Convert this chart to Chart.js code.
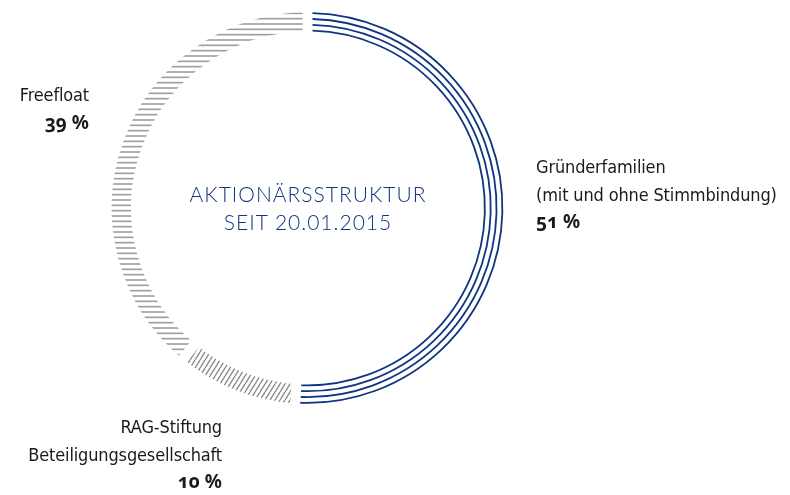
<!DOCTYPE html>
<html>
<head>
<meta charset="utf-8">
<script src="https://cdn.jsdelivr.net/npm/chart.js@4.4.0/dist/chart.umd.min.js"></script>
<style>
  html, body { margin: 0; padding: 0; background: #fff; }
  #wrap { position: relative; width: 790px; height: 495px; }
  #wrap canvas { position: absolute; left: 0; top: 0; }
  .lbl {
    position: absolute;
    font-family: "Liberation Sans Narrow", "DejaVu Sans Condensed", Roboto, sans-serif;
    font-size: 18px;
    line-height: 27.5px;
    letter-spacing: -0.15px;
    color: #1a1a1a;
    white-space: nowrap;
  }
  .lbl .pct {
    font-family: "Noto Sans", sans-serif;
    font-weight: 700;
    font-size: 19px;
    letter-spacing: 0;
    font-feature-settings: "onum";
  }
  .center {
    position: absolute;
    left: 108px; width: 400px; top: 180px;
    text-align: center;
    font-family: Lato, "Open Sans", sans-serif;
    font-weight: 300;
    font-size: 21px;
    line-height: 28px;
    letter-spacing: 1px;
    color: #123680;
  }
</style>
</head>
<body>
<div id="wrap">
  <canvas id="shareChart" width="790" height="495"></canvas>
  <div class="center" id="centerText"></div>
</div>
<script>
// Aktionärsstruktur – Anteile in Prozent
const categories = ['Gründerfamilien', 'RAG-Stiftung', 'Freefloat'];
const shares = [51, 10, 39];
const labelLines = [
  ['Gründerfamilien', '(mit und ohne Stimmbindung)'],
  ['RAG-Stiftung', 'Beteiligungsgesellschaft'],
  ['Freefloat']
];
const centerLines = ['AKTIONÄRSSTRUKTUR', 'SEIT 20.01.2015'];

const navy = '#0f3581';
const gap = 10;

// Schraffuren für die grauen Segmente
function hatch(kind) {
  const c = document.createElement('canvas');
  const g = c.getContext('2d');
  if (kind === 'horizontal') {
    c.width = 8; c.height = 16;
    g.strokeStyle = '#9c9c9c';
    g.lineWidth = 1.6;
    for (let i = 0; i < 3; i++) {
      const yy = 2.67 + i * 16 / 3;
      g.beginPath(); g.moveTo(0, yy); g.lineTo(8, yy); g.stroke();
    }
  } else {
    c.width = 5; c.height = 8;
    g.strokeStyle = '#8a8a8a';
    g.lineWidth = 1.4;
    for (const dx of [-5, 0, 5]) {
      g.beginPath(); g.moveTo(dx, 8); g.lineTo(dx + 5, 0); g.stroke();
    }
  }
  return g.createPattern(c, 'repeat');
}

// vier konzentrische Linien im Segment der Gründerfamilien
const ringLines = {
  id: 'ringLines',
  afterDatasetsDraw(chart) {
    const arc = chart.getDatasetMeta(0).data[0];
    const p = arc.getProps(['x', 'y', 'startAngle', 'endAngle', 'innerRadius', 'outerRadius'], true);
    const ctx = chart.ctx;
    const inner = p.innerRadius + gap / 2 + 0.9;
    const outer = p.outerRadius - gap / 2 - 0.9;
    const step = (outer - inner) / 3;
    ctx.save();
    ctx.strokeStyle = navy;
    ctx.lineWidth = 1.8;
    for (let i = 0; i < 4; i++) {
      const r = inner + i * step;
      const d = (gap / 2) / r;
      ctx.beginPath();
      ctx.arc(p.x, p.y, r, p.startAngle + d, p.endAngle - d);
      ctx.stroke();
    }
    ctx.restore();
  }
};

const ctx = document.getElementById('shareChart').getContext('2d');
const shareChart = new Chart(ctx, {
  type: 'doughnut',
  data: {
    labels: categories,
    datasets: [{
      data: shares,
      backgroundColor: ['rgba(0,0,0,0)', hatch('diagonal'), hatch('horizontal')],
      borderColor: '#ffffff',
      borderWidth: gap
    }]
  },
  options: {
    responsive: false,
    animation: false,
    events: [],
    devicePixelRatio: 1,
    cutout: '85.4%',
    layout: { padding: { left: 101.7, right: 276.7, top: 2.2, bottom: 81.2 } },
    plugins: {
      legend: { display: false },
      tooltip: { enabled: false }
    }
  },
  plugins: [ringLines]
});

// Beschriftungen
const wrap = document.getElementById('wrap');
const labelPos = [
  { left: 536, top: 153 },
  { right: 568, top: 413 },
  { right: 701, top: 81 }
];
categories.forEach((name, i) => {
  const div = document.createElement('div');
  div.className = 'lbl';
  const pos = labelPos[i];
  if (pos.left !== undefined) { div.style.left = pos.left + 'px'; div.style.textAlign = 'left'; }
  else { div.style.right = pos.right + 'px'; div.style.textAlign = 'right'; }
  div.style.top = pos.top + 'px';
  div.innerHTML = labelLines[i].join('<br>') + '<br><span class="pct">' + shares[i] + ' %</span>';
  wrap.appendChild(div);
});
document.getElementById('centerText').innerHTML = centerLines.join('<br>');
</script>
</body>
</html>
